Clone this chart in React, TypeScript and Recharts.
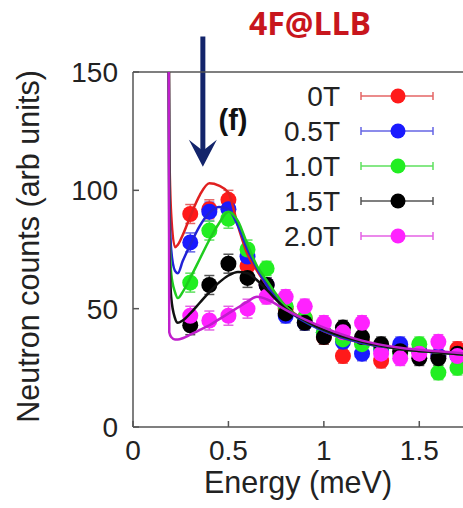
import React from "react"
import { ComposedChart, Scatter, Line, XAxis, YAxis, ErrorBar, ReferenceLine, Legend } from "recharts"

// measured points, one array per field
const energy = [0.3, 0.4, 0.5, 0.6, 0.7, 0.8, 0.9, 1.0, 1.1, 1.2, 1.3, 1.4, 1.5, 1.6, 1.7]
const counts0T = [90, 92, 96, 68, 60, 50, 46, 38, 30, 36, 28, 34, 32, 30, 33]
const counts05T = [78, 91, 92, 72, 60, 47, 44, 40, 36, 31, 33, 35, 32, 30, 30]
const counts10T = [61, 83, 88, 75, 67, 51, 46, 40, 37, 35, 34, 31, 35, 23, 25]
const counts15T = [43, 60, 69, 63, 60, 48, 44, 38, 42, 38, 35, 32, 29, 29, 31]
const counts20T = [47, 45, 47, 50, 55, 55, 51, 44, 40, 44, 31, 29, 31, 36, 30]
const countErr = [4, 4, 4, 4, 3, 3, 3, 3, 3, 3, 3, 3, 3, 3, 3]

// model curves on a shared energy grid
const fitEnergy = [0.186, 0.19, 0.2, 0.22, 0.235, 0.26, 0.3, 0.35, 0.4, 0.45, 0.5, 0.55, 0.6, 0.65, 0.7, 0.8, 0.9, 1.0, 1.2, 1.4, 1.6, 1.75]
const fit0T = [200, 120, 90, 76, 77, 81, 89, 98, 103, 102, 99, 85, 73, 66, 60, 51, 45, 40.5, 35.5, 33, 31.5, 30.5]
const fit05T = [200, 100, 75, 66, 65, 70, 77, 85, 90.5, 93, 92, 85, 75, 67, 60, 50, 44.5, 40.5, 35.5, 33, 31.5, 30.5]
const fit10T = [200, 90, 65, 57, 54.5, 57, 63, 71, 79, 86, 91, 87, 77, 68, 62, 51, 45, 41, 36, 33, 31.5, 30.5]
const fit15T = [200, 80, 55, 46, 44, 45, 48, 52.5, 57, 61, 64, 65.5, 65, 62, 58, 50, 45, 41, 36, 33, 31.5, 30.5]
const fit20T = [200, 40, 38, 37, 37, 37.5, 39, 41, 43, 45.5, 48, 50.5, 53, 55, 54, 49.5, 45.5, 42, 36.5, 33.5, 32, 31]

const fieldNames = ["0T", "0.5T", "1.0T", "1.5T", "2.0T"]
const xTicks = [0, 0.5, 1, 1.5]
const yTicks = [0, 50, 100, 150]
const arrowEnergy = 0.366

const measured = [counts0T, counts05T, counts10T, counts15T, counts20T]
const fits = [fit0T, fit05T, fit10T, fit15T, fit20T]
const dotColors = ["#ff1a1a", "#1a1aff", "#22ee22", "#000000", "#ff22ff"]
const fitColors = ["#e02020", "#2222d6", "#1fcc1f", "#111111", "#c01fcc"]
const barColors = ["#e46464", "#6464e4", "#5ee05e", "#555555", "#e462e4"]

const font = "'Liberation Sans', Arial, sans-serif"
const axisStroke = { stroke: "#555", strokeWidth: 1.5 }

const series = fieldNames.map((name, i) => ({
  name,
  points: energy.map((e, j) => ({ e, n: measured[i][j], err: countErr[j] })),
  fit: fitEnergy.map((e, j) => ({ e, n: fits[i][j] })),
  dot: dotColors[i],
  line: fitColors[i],
  bar: barColors[i],
}))

const Arrow = (props: any) => {
  const { x1, y1, x2, y2 } = props
  return (
    <g>
      <line x1={x1} y1={y1} x2={x2} y2={y2 - 14} stroke="#13246b" strokeWidth={5} />
      <polygon
        points={`${x2},${y2} ${x2 - 14},${y2 - 27} ${x2},${y2 - 16} ${x2 + 14},${y2 - 27}`}
        fill="#13246b"
      />
    </g>
  )
}

const YTitle = (props: any) => {
  const vb = props.viewBox
  const cy = vb.y + vb.height / 2 - 3
  return (
    <text x={39} y={cy} transform={`rotate(-90 39 ${cy})`} textAnchor="middle" fontSize={30.5} fontFamily={font} fill="#222">
      Neutron counts (arb units)
    </text>
  )
}

const XTitle = (props: any) => {
  const vb = props.viewBox
  return (
    <text x={vb.x + vb.width / 2 - 2} y={vb.y + 66} textAnchor="middle" fontSize={30.5} fontFamily={font} fill="#222">
      Energy (meV)
    </text>
  )
}

const FieldLegend = () => (
  <svg width={463} height={260}>
    {series.map((s, i) => {
      const y = 96 + i * 35
      return (
        <g key={s.name}>
          <text x={340} y={y} textAnchor="end" dominantBaseline="central" fontSize={28} fontFamily={font} fill="#222">
            {s.name}
          </text>
          <line x1={361} x2={433} y1={y} y2={y} stroke={s.bar} strokeWidth={1.5} />
          <line x1={361} x2={361} y1={y - 4} y2={y + 4} stroke={s.bar} strokeWidth={1.5} />
          <line x1={433} x2={433} y1={y - 4} y2={y + 4} stroke={s.bar} strokeWidth={1.5} />
          <circle cx={398} cy={y} r={7.5} fill={s.dot} />
        </g>
      )
    })}
  </svg>
)

export default function App() {
  return (
    <div style={{ position: "relative", width: 463, height: 508, overflow: "hidden", background: "#fff" }}>
      <style>{"body{margin:0}"}</style>
      <ComposedChart width={472} height={508} margin={{ top: 62, right: 0, bottom: 0, left: 0 }}>
        <XAxis
          xAxisId="bottom"
          dataKey="e"
          type="number"
          domain={[0, 1.75]}
          ticks={xTicks}
          height={81}
          tickSize={-6}
          tickMargin={19}
          axisLine={axisStroke}
          tickLine={axisStroke}
          tick={{ fill: "#222", fontSize: 28, fontFamily: font }}
          label={<XTitle />}
        />
        <XAxis
          xAxisId="top"
          orientation="top"
          dataKey="e"
          type="number"
          domain={[0, 1.75]}
          ticks={xTicks}
          height={10}
          tickSize={-6}
          axisLine={axisStroke}
          tickLine={axisStroke}
          tickFormatter={() => ""}
        />
        <YAxis
          yAxisId="left"
          type="number"
          domain={[0, 150]}
          ticks={yTicks}
          width={133}
          allowDataOverflow
          tickSize={-6}
          tickMargin={21}
          axisLine={axisStroke}
          tickLine={axisStroke}
          tick={{ fill: "#222", fontSize: 28, fontFamily: font }}
          label={<YTitle />}
        />
        <YAxis
          yAxisId="right"
          orientation="right"
          type="number"
          domain={[0, 150]}
          ticks={yTicks}
          width={5}
          tickSize={-6}
          axisLine={axisStroke}
          tickLine={axisStroke}
          tickFormatter={() => ""}
        />

        {series.map((s) => (
          <Scatter
            key={"pts" + s.name}
            name={s.name}
            data={s.points}
            dataKey="n"
            xAxisId="bottom"
            yAxisId="left"
            isAnimationActive={false}
            shape={(p: any) => <circle cx={p.cx} cy={p.cy} r={8} fill={s.dot} />}
          >
            <ErrorBar dataKey="err" direction="y" width={5} stroke={s.bar} strokeWidth={1.5} />
          </Scatter>
        ))}

        {/* model curves sit above the measured points */}
        {series.map((s) => (
          <Line
            key={"fit" + s.name}
            data={s.fit}
            dataKey="n"
            xAxisId="bottom"
            yAxisId="left"
            type="monotone"
            stroke={s.line}
            strokeWidth={2.5}
            dot={false}
            legendType="none"
            zIndex={700}
            isAnimationActive={false}
          />
        ))}

        <ReferenceLine
          xAxisId="bottom"
          yAxisId="left"
          segment={[{ x: arrowEnergy, y: 165 }, { x: arrowEnergy, y: 110 }]}
          ifOverflow="visible"
          shape={Arrow}
        />

        <Legend
          layout="vertical"
          align="center"
          verticalAlign="middle"
          content={<FieldLegend />}
          wrapperStyle={{ top: 0, left: 0, width: 463, height: 260, pointerEvents: "none" }}
        />
      </ComposedChart>

      <svg width={463} height={508} style={{ position: "absolute", top: 0, left: 0, pointerEvents: "none" }}>
        <text x={310} y={35} textAnchor="middle" fontFamily="'Open Sans', sans-serif" fontWeight={700} fontSize={32} fill="#c8161d">
          4F@LLB
        </text>
        <text x={233} y={130} textAnchor="middle" fontFamily={font} fontWeight={700} fontSize={29} fill="#111">
          (f)
        </text>
      </svg>
    </div>
  )
}
